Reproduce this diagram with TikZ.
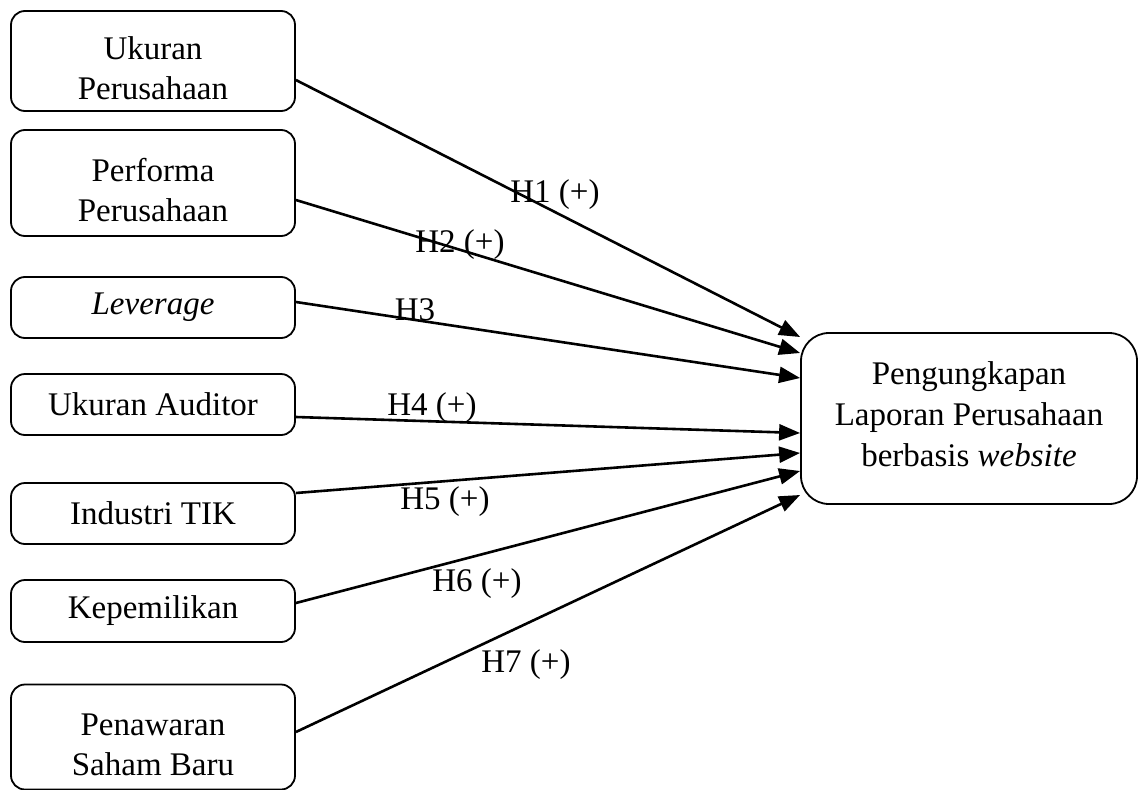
\documentclass[tikz,border=0pt]{standalone}
\usepackage{fontspec}
\setmainfont{Liberation Serif}
\usepackage{tikz}
\usetikzlibrary{arrows.meta,shapes}

\newcommand{\topgap}{\rule{0pt}{37pt}}
\newcommand{\botgap}{\rule[-8pt]{0pt}{8pt}}
\tikzset{
var/.style={draw,line width=1.8pt,rounded corners=14pt,minimum width=284pt,align=center,inner sep=0pt,font=\fontsize{33}{40}\selectfont},
dv/.style={var,rounded corners=28pt,minimum width=336pt,minimum height=171pt,font=\fontsize{33}{41}\selectfont},
hyp/.style={inner sep=0pt,font=\fontsize{33}{40}\selectfont},
link/.style={->,line width=2.6pt}
}

\begin{document}
\begin{tikzpicture}[x=1pt,y=-1pt,>={Triangle[length=21pt,width=16pt]}]
\useasboundingbox (0,0) rectangle (1142,789);
\node[var,minimum height=100pt](ukuran) at (153,61) {\topgap Ukuran\\Perusahaan};
\node[var,minimum height=106pt](performa) at (153,183) {\topgap Performa\\Perusahaan};
\node[var,minimum height=61pt](leverage) at (153,307.5) {\textit{Leverage}};
\node[var,minimum height=61pt](auditor) at (153,404.5) {Ukuran Auditor};
\node[var,minimum height=61pt](tik) at (153,513.5) {Industri TIK};
\node[var,minimum height=62pt](milik) at (153,611) {Kepemilikan};
\node[var,minimum height=105pt](saham) at (153,737) {\topgap Penawaran\\Saham Baru};
\node[dv](web) at (969,418.5) {Pengungkapan\\Laporan Perusahaan\\berbasis \textit{website}\botgap};
\draw[link]([yshift=-19pt]ukuran.east)--([yshift=81.5pt]web.west);
\draw[link]([yshift=-17pt]performa.east)--([yshift=65.5pt]web.west);
\draw[link]([yshift=5.5pt]leverage.east)--([yshift=40.5pt]web.west);
\draw[link]([yshift=-12.5pt]auditor.east)--([yshift=-14.5pt]web.west);
\draw[link]([yshift=20.5pt]tik.east)--([yshift=-34.5pt]web.west);
\draw[link]([yshift=8pt]milik.east)--([yshift=-52.5pt]web.west);
\draw[link]([yshift=5pt]saham.east)--([yshift=-76.5pt]web.west);
\node[hyp](h1) at (555,195) {H1 (+)};
\node[hyp](h2) at (460,245) {H2 (+)};
\node[hyp](h3) at (415,310) {H3};
\node[hyp](h4) at (432,408) {H4 (+)};
\node[hyp](h5) at (445,502) {H5 (+)};
\node[hyp](h6) at (477,584) {H6 (+)};
\node[hyp](h7) at (526,665) {H7 (+)};
\end{tikzpicture}
\end{document}
